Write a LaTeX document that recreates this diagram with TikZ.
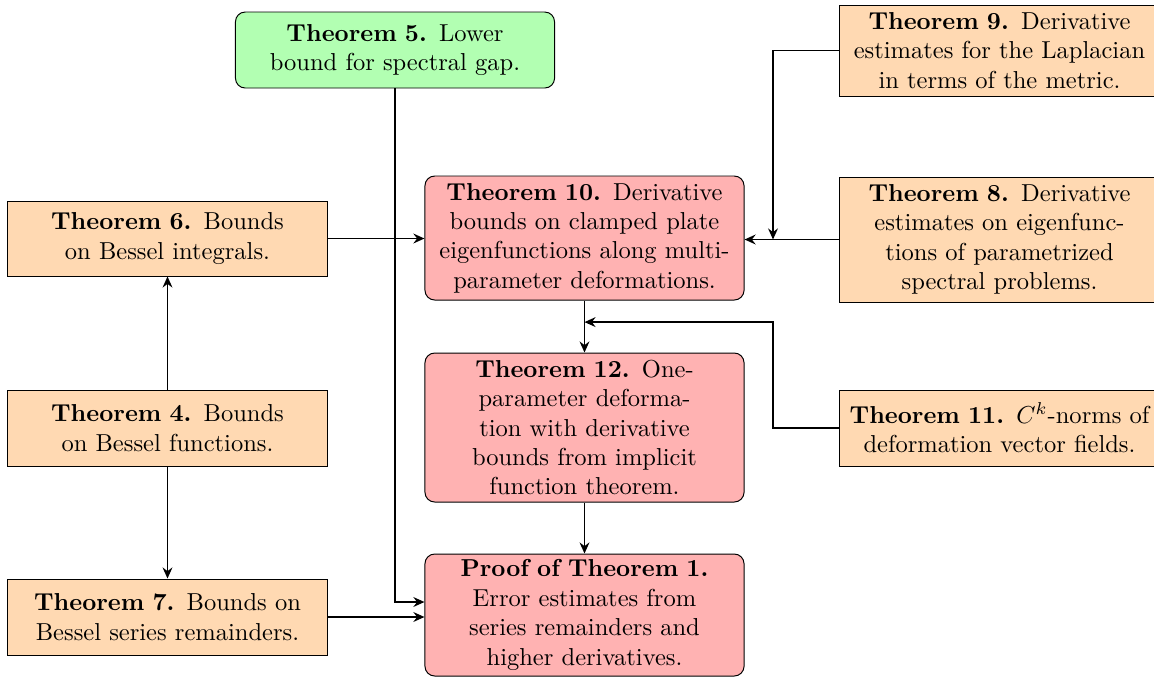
\documentclass[tikz,border=0pt]{standalone}
\usetikzlibrary{arrows.meta,calc}
\begin{document}
\begin{tikzpicture}[x=0.408pt,y=-0.408pt,
  box/.style={draw,thin,align=center,inner sep=2pt,text width=126pt,minimum width=130.2pt},
  grn/.style={box,fill=green!30,rounded corners=4pt},
  org/.style={box,fill=orange!30},
  rd/.style={box,fill=red!30,rounded corners=4pt},
  arr/.style={thick,-{Stealth[length=4.5pt,width=4pt,inset=1.5pt]}}]
\clip (0,0) rectangle (1154,677);
\node[grn,minimum height=76*0.408pt] (t5) at (395,50) {\textbf{Theorem 5.}\enspace Lower\\bound for spectral gap.};
\node[org,minimum height=91*0.408pt] (t9) at (999.5,50.5) {\textbf{Theorem 9.}\enspace Derivative\\estimates for the Laplacian\\in terms of the metric.};
\node[org,minimum height=125*0.408pt] (t8) at (999.5,239.5) {\textbf{Theorem 8.}\enspace Derivative\\estimates on eigenfunc-\\tions of parametrized\\spectral problems.};
\node[rd,minimum height=124*0.408pt] (t10) at (584.5,238) {\textbf{Theorem 10.}\enspace Derivative\\bounds on clamped plate\\eigenfunctions along multi-\\parameter deformations.};
\node[org,minimum height=75*0.408pt] (t6) at (167.5,238.5) {\textbf{Theorem 6.}\enspace Bounds\\on Bessel integrals.};
\node[org,minimum height=76*0.408pt] (t4) at (167.5,428) {\textbf{Theorem 4.}\enspace Bounds\\on Bessel functions.};
\node[org,minimum height=76*0.408pt] (t7) at (167.5,617) {\textbf{Theorem 7.}\enspace Bounds on\\Bessel series remainders.};
\node[rd,minimum height=149*0.408pt] (t12) at (584.5,427.5) {\textbf{Theorem 12.}\enspace One-\\parameter deforma-\\tion with derivative\\bounds from implicit\\function theorem.};
\node[rd,minimum height=122*0.408pt] (t1) at (584.5,615) {\textbf{Proof of Theorem 1.}\\Error estimates from\\series remainders and\\higher derivatives.};
\node[org,minimum height=76*0.408pt] (t11) at (999.5,428) {\textbf{Theorem 11.}\enspace $C^k$-norms of\\deformation vector fields.};
\coordinate (c773) at (773,0);
\coordinate (j1) at (t8.west -| c773);
\coordinate (j2) at ($(t10.south)!0.415!(t12.north)$);
\coordinate (k1) at ($(t1.west)+(0,-13)$);
\draw[arr] (t5.south) |- (k1);
\draw[arr] (t7.east) -- (t1.west |- t7.east);
\draw[arr] (t6.east) -- (t10.west |- t6.east);
\draw[arr] (t4.north) -- (t6.south);
\draw[arr] (t4.south) -- (t7.north);
\draw[arr] (t8.west) -- (t10.east |- t8.west);
\draw[arr] (t9.west) -| (j1);
\draw[arr] (t10.south) -- (t12.north);
\draw[arr] (t11.west) -| (c773 |- j2) -- (j2);
\draw[arr] (t12.south) -- (t1.north);
\end{tikzpicture}
\end{document}
